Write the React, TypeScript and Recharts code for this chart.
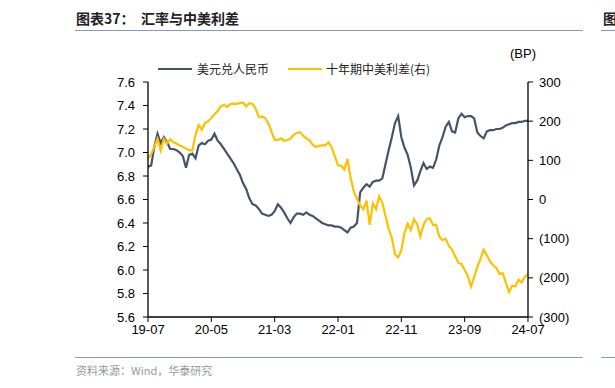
import React from 'react';
import { LineChart, Line, XAxis, YAxis } from 'recharts';

// semi-monthly samples, 2019-07 .. 2024-07
const tickLabels = ['19-07', '20-05', '21-03', '22-01', '22-11', '23-09', '24-07'];

const usdCny = [
  6.88, 6.89, 7.05, 7.16, 7.08, 7.13, 7.09, 7.03, 7.03, 7.02, 7.0, 6.97, 6.87, 6.98, 6.99, 6.95,
  7.06, 7.08, 7.07, 7.1, 7.11, 7.16, 7.1, 7.07, 7.03, 6.99, 6.95, 6.91, 6.86, 6.81, 6.74, 6.69,
  6.61, 6.56, 6.55, 6.52, 6.48, 6.47, 6.46, 6.47, 6.5, 6.56, 6.53, 6.49, 6.44, 6.4, 6.45, 6.48,
  6.48, 6.47, 6.49, 6.47, 6.46, 6.44, 6.42, 6.4, 6.39, 6.38, 6.38, 6.37, 6.37, 6.36, 6.34, 6.32,
  6.36, 6.37, 6.4, 6.66, 6.7, 6.73, 6.71, 6.75, 6.76, 6.76, 6.78, 6.9, 7.02, 7.13, 7.25, 7.31,
  7.13, 7.04, 6.98, 6.87, 6.72, 6.76, 6.84, 6.91, 6.86, 6.88, 6.87, 6.94, 7.06, 7.13, 7.22, 7.26,
  7.18, 7.17, 7.29, 7.33, 7.3, 7.31, 7.31, 7.29, 7.17, 7.14, 7.12, 7.18, 7.19, 7.19, 7.2, 7.2,
  7.21, 7.23, 7.24, 7.25, 7.25, 7.26, 7.26, 7.27, 7.27,
];

const spread = [
  105, 115, 135, 155, 125, 155, 143, 154, 146, 143, 138, 135, 130, 126, 125, 165,
  190, 178, 195, 200, 208, 218, 226, 238, 242, 236, 244, 245, 244, 246, 248, 238,
  246, 244, 232, 210, 212, 208, 195, 173, 152, 152, 156, 150, 152, 155, 165, 170,
  172, 163, 156, 151, 140, 134, 137, 138, 138, 146, 133, 110, 88, 86, 76, 104,
  55, 20, 2, -15, -25, -3, -65, -10, -25, 8, -8, -42, -75, -98, -140, -148,
  -130, -85, -62, -78, -50, -63, -95, -65, -50, -48, -65, -65, -95, -104, -100, -118,
  -128, -145, -162, -165, -180, -195, -222, -198, -172, -152, -128, -142, -158, -168, -175, -190,
  -188, -212, -236, -220, -222, -205, -212, -197, -191,
];

const data = usdCny.map((v, i) => ({ m: i / 2, fx: v, sp: spread[i] }));

const DARK = '#44546a';
const GOLD = '#ffc000';
const AXIS_FONT = '"Liberation Sans", Arial, sans-serif';
const CJK_FONT = '"Noto Sans CJK SC", sans-serif';

const fmtRight = (v: number) => (v < 0 ? `(${Math.abs(v)})` : `${v}`);

export default function App() {
  const tickStyle = { fontSize: 13, fill: '#000', fontFamily: AXIS_FONT };
  return (
    <div
      style={{
        position: 'absolute',
        left: 0,
        top: 0,
        width: 615,
        height: 388,
        background: '#fff',
        overflow: 'hidden',
      }}
    >
      {/* header */}
      <div
        style={{
          position: 'absolute',
          left: 76,
          top: 8,
          fontFamily: CJK_FONT,
          fontWeight: 700,
          fontSize: 14,
          color: '#222',
          whiteSpace: 'nowrap',
        }}
      >
        图表37：&nbsp;&nbsp;汇率与中美利差
      </div>
      <div style={{ position: 'absolute', left: 603, top: 8, fontFamily: CJK_FONT, fontWeight: 700, fontSize: 14, color: '#222' }}>
        图
      </div>
      <div style={{ position: 'absolute', left: 75, top: 30, width: 508, height: 1, background: '#7f9cc0' }} />
      <div style={{ position: 'absolute', left: 601, top: 30, width: 14, height: 1, background: '#7f9cc0' }} />

      {/* legend */}
      <div style={{ position: 'absolute', left: 158, top: 68, width: 34, height: 2, background: DARK }} />
      <div style={{ position: 'absolute', left: 197, top: 60, fontFamily: CJK_FONT, fontSize: 12, color: '#222', whiteSpace: 'nowrap' }}>
        美元兑人民币
      </div>
      <div style={{ position: 'absolute', left: 288, top: 68, width: 34, height: 2, background: GOLD }} />
      <div style={{ position: 'absolute', left: 326, top: 60, fontFamily: CJK_FONT, fontSize: 12, color: '#222', whiteSpace: 'nowrap' }}>
        十年期中美利差(右)
      </div>
      <div style={{ position: 'absolute', left: 510, top: 46, fontFamily: AXIS_FONT, fontSize: 13, color: '#000' }}>(BP)</div>

      <div style={{ position: 'absolute', left: 0, top: 0 }}>
        <LineChart width={615} height={388} data={data} margin={{ top: 82, right: 37, bottom: 41, left: 98 }}>
          <XAxis
            dataKey="m"
            type="number"
            domain={[0, 60]}
            ticks={[0, 10, 20, 30, 40, 50, 60]}
            tickFormatter={(v: number) => tickLabels[v / 10]}
            tick={tickStyle}
            tickSize={5}
            tickMargin={3}
            height={30}
            stroke="#000"
            axisLine={{ stroke: '#000', strokeWidth: 1.3 }}
          />
          <YAxis
            yAxisId="left"
            domain={[5.6, 7.6]}
            ticks={[5.6, 5.8, 6.0, 6.2, 6.4, 6.6, 6.8, 7.0, 7.2, 7.4, 7.6]}
            tickFormatter={(v: number) => v.toFixed(1)}
            tick={tickStyle}
            tickSize={5}
            tickMargin={8}
            width={50}
            stroke="#000"
            axisLine={{ stroke: '#000', strokeWidth: 1.3 }}
            allowDataOverflow
          />
          <YAxis
            yAxisId="right"
            orientation="right"
            domain={[-300, 300]}
            ticks={[-300, -200, -100, 0, 100, 200, 300]}
            tickFormatter={fmtRight}
            tick={tickStyle}
            tickSize={5}
            tickMargin={6}
            width={50}
            stroke="#000"
            axisLine={{ stroke: '#000', strokeWidth: 1.3 }}
            allowDataOverflow
          />
          <Line
            yAxisId="left"
            dataKey="fx"
            stroke={DARK}
            strokeWidth={2.2}
            dot={false}
            isAnimationActive={false}
          />
          <Line
            yAxisId="right"
            dataKey="sp"
            stroke={GOLD}
            strokeWidth={2.2}
            dot={false}
            isAnimationActive={false}
          />
        </LineChart>
      </div>

      {/* footer */}
      <div style={{ position: 'absolute', left: 75, top: 357, width: 508, height: 1, background: '#7f9cc0' }} />
      <div style={{ position: 'absolute', left: 601, top: 357, width: 14, height: 1, background: '#7f9cc0' }} />
      <div
        style={{
          position: 'absolute',
          left: 76,
          top: 362,
          fontFamily: CJK_FONT,
          fontSize: 11,
          color: '#999',
          whiteSpace: 'nowrap',
        }}
      >
        资料来源：Wind，华泰研究
      </div>
    </div>
  );
}
